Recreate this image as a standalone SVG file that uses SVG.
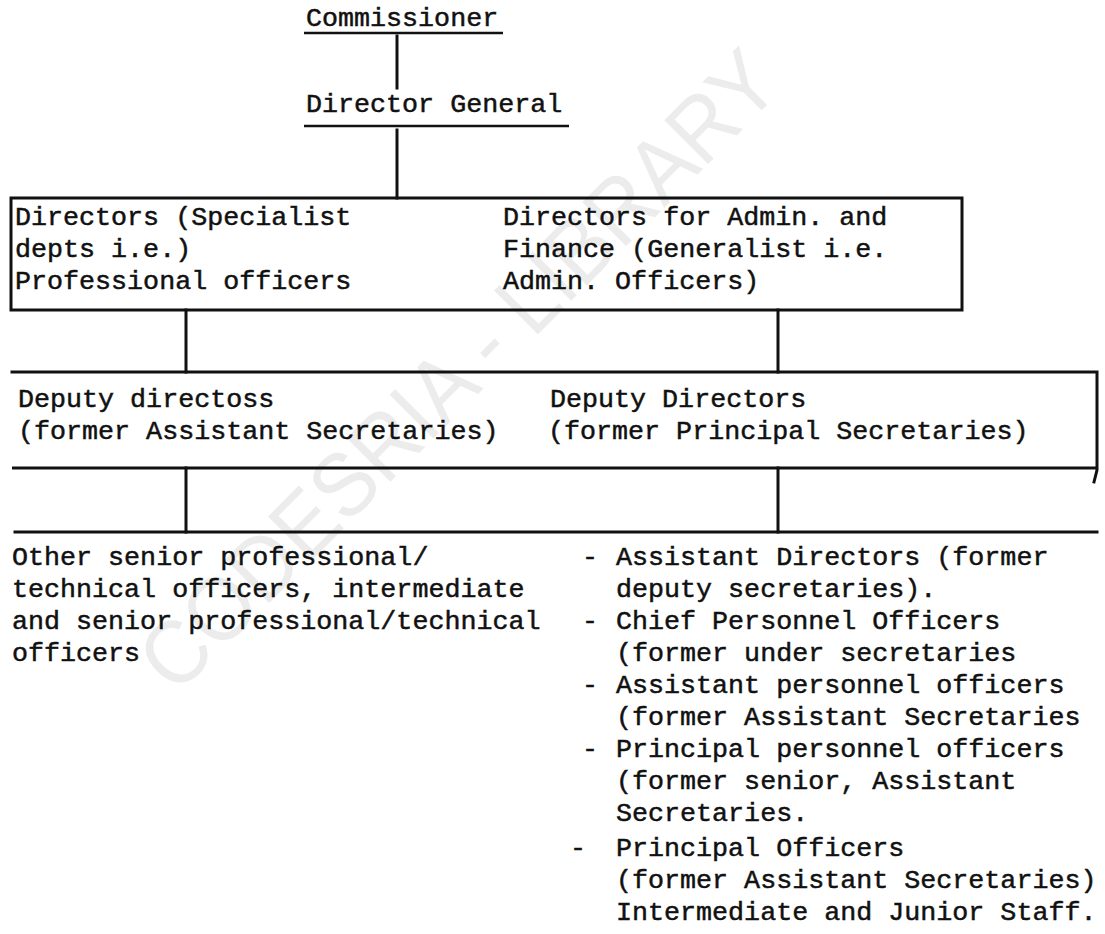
<svg xmlns="http://www.w3.org/2000/svg" width="1105" height="934" viewBox="0 0 1105 934">
<style>
.t{font-family:"Liberation Mono","DejaVu Sans Mono",monospace;font-size:26.7px;fill:#111;stroke:#111;stroke-width:0.5}
.ln{stroke:#111;stroke-width:3;fill:none;stroke-linecap:square}
.ul{stroke:#111;stroke-width:2.6;fill:none}
.wm{font-family:"Liberation Sans",Arial,sans-serif;font-size:90px;fill:#ececec}
</style>
<text class="wm" x="480" y="392" text-anchor="middle" transform="rotate(-45 480 392)" textLength="860" lengthAdjust="spacingAndGlyphs">CODESRIA - LIBRARY</text>
<g id="connectors">
<line class="ln" x1="397" y1="36" x2="397" y2="88"/>
<line class="ln" x1="397" y1="130" x2="397" y2="198"/>
<line class="ln" x1="186" y1="310" x2="186" y2="372"/>
<line class="ln" x1="778" y1="310" x2="778" y2="372"/>
<line class="ln" x1="186" y1="468" x2="186" y2="532"/>
<line class="ln" x1="778" y1="468" x2="778" y2="532"/>
</g>
<g id="commissioner">
<text class="t" x="306" y="26">Commissioner</text>
<line class="ul" x1="304" y1="33" x2="503" y2="33"/>
</g>
<g id="director-general">
<text class="t" x="306" y="112">Director General</text>
<line class="ul" x1="304" y1="126" x2="569" y2="126"/>
</g>
<g id="directors">
<rect class="ln" x="11" y="198" width="951" height="112"/>
<text class="t" x="15" y="225">Directors (Specialist</text>
<text class="t" x="15" y="257">depts i.e.)</text>
<text class="t" x="15" y="289">Professional officers</text>
<text class="t" x="503" y="225">Directors for Admin. and</text>
<text class="t" x="503" y="257">Finance (Generalist i.e.</text>
<text class="t" x="503" y="289">Admin. Officers)</text>
</g>
<g id="deputy-directors">
<path class="ln" d="M12 372 H1097 V470 L1094 482 M1097 468 H12 Z"/>
<text class="t" x="18" y="407">Deputy directoss</text>
<text class="t" x="18" y="439">(former Assistant Secretaries)</text>
<text class="t" x="550" y="407">Deputy Directors</text>
<text class="t" x="548" y="439">(former Principal Secretaries)</text>
</g>
<g id="lower-level">
<line class="ln" x1="15" y1="532" x2="1097" y2="532"/>
</g>
<g id="other-senior">
<text class="t" x="12" y="565">Other senior professional/</text>
<text class="t" x="12" y="597">technical officers, intermediate</text>
<text class="t" x="12" y="629">and senior professional/technical</text>
<text class="t" x="12" y="661">officers</text>
</g>
<g id="admin-list">
<text class="t" x="582" y="565">-</text>
<text class="t" x="616" y="565">Assistant Directors (former</text>
<text class="t" x="616" y="597">deputy secretaries).</text>
<text class="t" x="582" y="629">-</text>
<text class="t" x="616" y="629">Chief Personnel Officers</text>
<text class="t" x="616" y="661">(former under secretaries</text>
<text class="t" x="582" y="693">-</text>
<text class="t" x="616" y="693">Assistant personnel officers</text>
<text class="t" x="616" y="725">(former Assistant Secretaries</text>
<text class="t" x="582" y="757">-</text>
<text class="t" x="616" y="757">Principal personnel officers</text>
<text class="t" x="616" y="789">(former senior, Assistant</text>
<text class="t" x="616" y="821">Secretaries.</text>
<text class="t" x="570" y="856">-</text>
<text class="t" x="616" y="856">Principal Officers</text>
<text class="t" x="616" y="888">(former Assistant Secretaries)</text>
<text class="t" x="616" y="920">Intermediate and Junior Staff.</text>
</g>
</svg>
